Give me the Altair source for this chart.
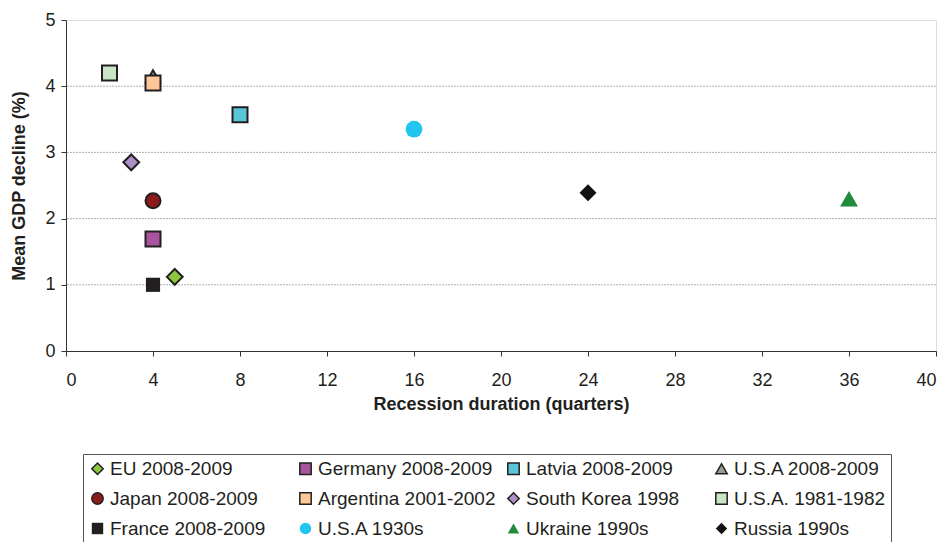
import altair as alt
import pandas as pd

series = ["EU 2008-2009", "Germany 2008-2009", "Latvia 2008-2009", "U.S.A 2008-2009",
          "Japan 2008-2009", "Argentina 2001-2002", "South Korea 1998", "U.S.A. 1981-1982",
          "France 2008-2009", "U.S.A 1930s", "Ukraine 1990s", "Russia 1990s"]
duration = [5, 4, 8, 4, 4, 4, 3, 2, 4, 16, 36, 24]
decline = [1.12, 1.69, 3.57, 4.15, 2.27, 4.05, 2.85, 4.2, 1.0, 3.35, 2.3, 2.39]
fills = ["#8dc63f", "#a8559e", "#5bc6da", "#9a9a9a", "#8b1a1a", "#fdc797", "#a991c6", "#c8e6c6",
         "#231f20", "#22c4f0", "#1e8c3c", "#111111"]
shapes = ["diamond", "square", "square", "triangle-up", "circle", "square", "diamond", "square",
          "square", "circle", "triangle-up", "diamond"]
strokes = ["#231f20"] * 8 + ["transparent"] * 4
marker_sizes = [250, 225, 225, 200, 225, 225, 250, 225, 200, 280, 320, 290]
gridlines = [1, 2, 3, 4]

df = pd.DataFrame({"series": series, "duration": duration, "decline": decline,
                   "msize": marker_sizes})
grid_df = pd.DataFrame({"g": gridlines})

FONT = "Liberation Sans"
TXT = "#231f20"

grid = alt.Chart(grid_df).mark_rule(color="#b0b0b0", strokeDash=[2, 1], strokeWidth=1).encode(
    y=alt.Y("g:Q", scale=alt.Scale(domain=[0, 5]))
)

points = alt.Chart(df).mark_point(filled=True, strokeWidth=2, opacity=1).encode(
    x=alt.X("duration:Q", scale=alt.Scale(domain=[0, 40], nice=False),
            axis=alt.Axis(values=list(range(0, 41, 4)), title="Recession duration (quarters)",
                          grid=False, domainColor="#333", tickColor="#333", tickSize=5,
                          labelFontSize=18, labelColor=TXT, labelPadding=15, format="d",
                          titleFontSize=18, titleFontWeight="bold", titleColor=TXT,
                          titlePadding=6, labelFont=FONT, titleFont=FONT)),
    y=alt.Y("decline:Q", scale=alt.Scale(domain=[0, 5], nice=False),
            axis=alt.Axis(values=[0, 1, 2, 3, 4, 5], title="Mean GDP decline (%)", format="d",
                          grid=False, domainColor="#333", tickColor="#333", tickSize=5,
                          labelFontSize=18, labelColor=TXT, labelPadding=6,
                          titleFontSize=18, titleFontWeight="bold", titleColor=TXT,
                          titlePadding=16, labelFont=FONT, titleFont=FONT)),
    color=alt.Color("series:N", scale=alt.Scale(domain=series, range=fills),
                    legend=alt.Legend(title=None, orient="none", legendX=17, legendY=434,
                                      direction="horizontal", columns=4, gridAlign="all",
                                      columnPadding=8, rowPadding=10,
                                      labelFontSize=19, labelFont=FONT, labelColor=TXT,
                                      symbolSize=130, symbolStrokeWidth=1.5, labelOffset=3,
                                      strokeColor="#555", padding=5, labelLimit=300)),
    shape=alt.Shape("series:N", scale=alt.Scale(domain=series, range=shapes), legend=alt.Legend(title=None)),
    stroke=alt.Stroke("series:N", scale=alt.Scale(domain=series, range=strokes), legend=alt.Legend(title=None)),
    size=alt.Size("msize:Q", scale=None, legend=None),
)

chart = alt.layer(grid, points).properties(
    width=870, height=331,
    autosize=alt.AutoSizeParams(type="none"),
    padding={"left": 58, "top": 12, "right": 5, "bottom": 220},
).configure_view(stroke=None).configure(background="white")

chart.save("out.html", embed_options={"renderer": "svg", "actions": False})
